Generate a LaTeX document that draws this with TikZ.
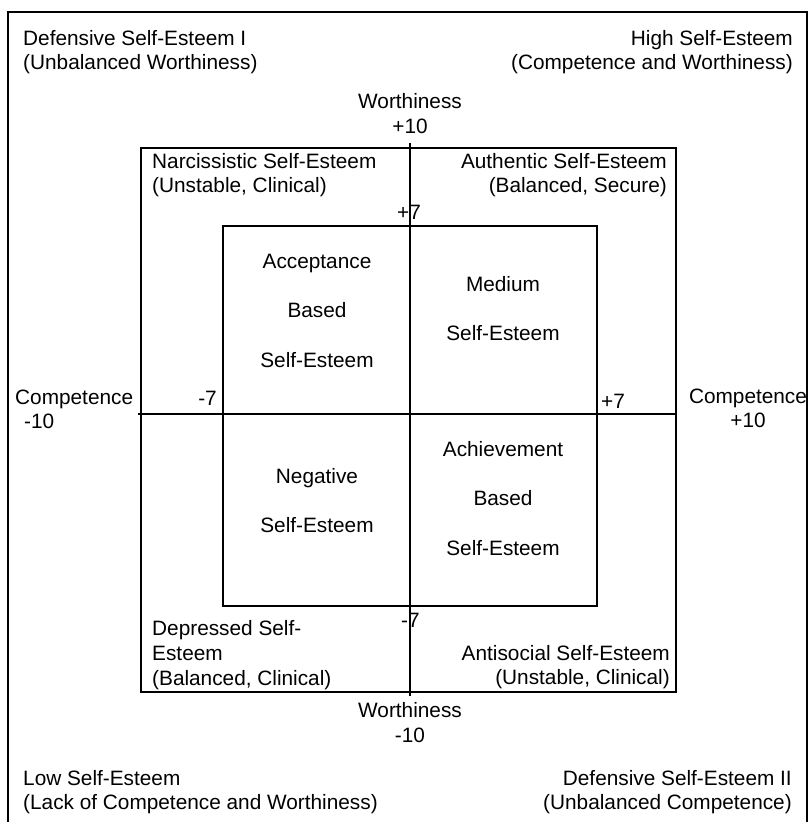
\documentclass[tikz,border=0pt]{standalone}
\usepackage{fontspec}
\setmainfont{Liberation Sans}
\newcommand{\mylines}[2]{\begin{tabular}[t]{@{}#1@{}}#2\end{tabular}}
\tikzset{
  lbl/.style={inner sep=0pt, font=\fontsize{20.8}{24}\selectfont},
  axl/.style={inner sep=0pt, font=\fontsize{20.8}{25}\selectfont},
  quad/.style={inner sep=0pt, font=\fontsize{20.8}{49.5}\selectfont},
  frame/.style={line width=1.6pt, line join=miter},
}
\begin{document}
\begin{tikzpicture}[x=1pt,y=-1pt]
\useasboundingbox (0,0) rectangle (809,822);
\fill[white] (0,0) rectangle (809,822);
% outer frame (bottom edge lies below the picture)
\draw[frame] (8,823) -- (8,12) -- (807,12) -- (807,823);
% middle and inner squares
\draw[frame] (141,148) rectangle (676,692);
\draw[frame] (223,226) rectangle (597,606);
% axes
\coordinate (wtop) at (410,143);
\coordinate (wbot) at (410,696);
\coordinate (cleft) at (138,414);
\coordinate (cright) at (676,414);
\draw[frame] (wtop) -- (wbot);
\draw[frame] (cleft) -- (cright);
% corner labels
\node[lbl, anchor=base west] (dse1) at (23,45) {\mylines{l}{Defensive Self-Esteem I\\(Unbalanced Worthiness)}};
\node[lbl, anchor=base east] (high) at (793,45) {\mylines{r}{High Self-Esteem\\(Competence and Worthiness)}};
\node[lbl, anchor=base west] (low) at (23,785) {\mylines{l}{Low Self-Esteem\\(Lack of Competence and Worthiness)}};
\node[lbl, anchor=base east] (dse2) at (792,785) {\mylines{r}{Defensive Self-Esteem II\\(Unbalanced Competence)}};
% axis labels
\node[axl, anchor=base] (wplus) at (410,108) {\mylines{c}{Worthiness\\+10}};
\node[axl, anchor=base] (wminus) at (410,717) {\mylines{c}{Worthiness\\-10}};
\node[lbl, anchor=base west] (cminus) at (15,404) {\mylines{l}{Competence\\\hspace{9pt}-10}};
\node[lbl, anchor=base] (cplus) at (748,403) {\mylines{c}{Competence\\+10}};
% tick labels
\node[lbl, anchor=base west] (t7top) at (397,219) {+7};
\node[lbl, anchor=base west] (t7bot) at (401,627) {-7};
\node[lbl, anchor=base east] (t7left) at (217,405) {-7};
\node[lbl, anchor=base west] (t7right) at (601,408) {+7};
% middle ring labels
\node[lbl, anchor=base west] (narc) at (152,168) {\mylines{l}{Narcissistic Self-Esteem\\(Unstable, Clinical)}};
\node[lbl, anchor=base east] (auth) at (667,168) {\mylines{r}{Authentic Self-Esteem\\(Balanced, Secure)}};
\node[axl, anchor=base west] (depr) at (152,635) {\mylines{l}{Depressed Self-\\Esteem\\(Balanced, Clinical)}};
\node[lbl, anchor=base east] (anti) at (670,660) {\mylines{r}{Antisocial Self-Esteem\\(Unstable, Clinical)}};
% inner quadrants
\node[quad, anchor=base] (accept) at (317,268) {\mylines{c}{Acceptance\\Based\\Self-Esteem}};
\node[quad, anchor=base] (medium) at (503,291) {\mylines{c}{Medium\\Self-Esteem}};
\node[quad, anchor=base] (neg) at (317,483) {\mylines{c}{Negative\\Self-Esteem}};
\node[quad, anchor=base] (achieve) at (503,456) {\mylines{c}{Achievement\\Based\\Self-Esteem}};
\end{tikzpicture}
\end{document}
